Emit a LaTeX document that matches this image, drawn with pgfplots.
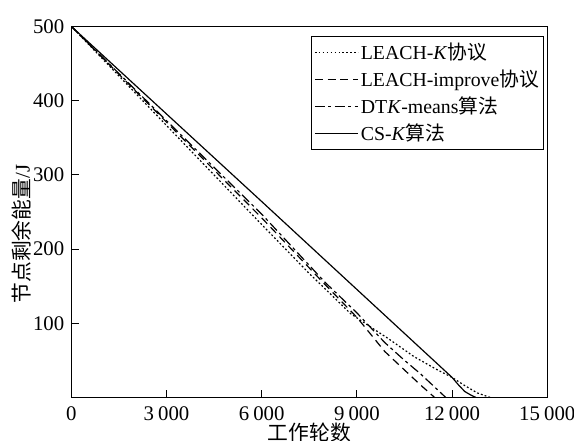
\documentclass[border=0pt]{standalone}
\usepackage{fontspec}
\setmainfont{Liberation Serif}
\newfontfamily\cjk{Noto Sans CJK SC}
\usepackage{pgfplots}
\pgfplotsset{compat=1.18}
\begin{document}
\begin{tikzpicture}
\begin{axis}[
  scale only axis,
  width=240.5pt, height=187.5pt,
  xmin=0, xmax=15000, ymin=0, ymax=500,
  xtick={0,3000,6000,9000,12000,15000},
  ytick={100,200,300,400,500},
  xtick pos=bottom, ytick pos=left,
  tick align=inside,
  major tick length=4pt,
  axis line style={line width=0.6pt},
  every tick/.style={black,line width=0.5pt},
  /pgf/number format/assume math mode=true,
  /pgf/number format/1000 sep={\hspace{0.2em}},
  scaled x ticks=false,
  tick label style={font=\fontsize{10.5}{12}\selectfont},
  xticklabel style={yshift=-1pt},
  xlabel={\cjk 工作轮数},
  ylabel={\cjk 节点剩余能量\rmfamily/J},
  label style={font=\fontsize{10.5}{12}\selectfont},
  xlabel style={at={(axis description cs:0.5,-0.094)},anchor=center},
  ylabel style={at={(axis description cs:-0.104,0.44)},anchor=center},
  legend style={at={(axis description cs:0.994,0.973)},anchor=north east,
    draw=black, line width=0.5pt, font=\fontsize{10}{11}\selectfont,
    row sep=-0.3pt, inner xsep=1.5pt, inner ysep=1pt,
    nodes={inner xsep=1pt}},
  legend cell align=left,
  legend image code/.code={\draw[#1] (0pt,0pt) -- (22pt,0pt);},
]
\addplot[black, line width=0.6pt, dash pattern=on 0.9pt off 1.1pt] coordinates {
(0,500) (2000,411) (4000,322) (6000,233) (7500,167) (8200,138) (8800,113) (9500,93) (10000,79) (10800,55) (11500,38) (12000,27) (12400,16) (12800,6) (13200,0)};
\addlegendentry{LEACH-\textit{K}{\cjk 协议}}
\addplot[black, line width=0.6pt, dash pattern=on 4pt off 2.5pt] coordinates {
(0,500) (3000,371) (6000,242) (8000,152) (9000,108) (9877,62) (10500,37) (11000,17) (11450,0)};
\addlegendentry{LEACH-improve{\cjk 协议}}
\addplot[black, line width=0.6pt, dash pattern=on 5pt off 1.8pt on 1.5pt off 1.8pt] coordinates {
(0,500) (3000,373) (6000,247) (8000,155) (9000,114) (9877,74) (10500,50) (11000,32) (11500,12) (11800,0)};
\addlegendentry{DT\textit{K}-means{\cjk 算法}}
\addplot[black, line width=0.6pt] coordinates {
(0,500) (6000,264) (12000,27) (12200,17) (12400,8) (12600,3) (12750,0)};
\addlegendentry{CS-\textit{K}{\cjk 算法}}
\end{axis}
\pgfresetboundingbox
\path[use as bounding box] (-36pt,-22pt) rectangle (254pt,200.8pt);
\end{tikzpicture}
\end{document}
